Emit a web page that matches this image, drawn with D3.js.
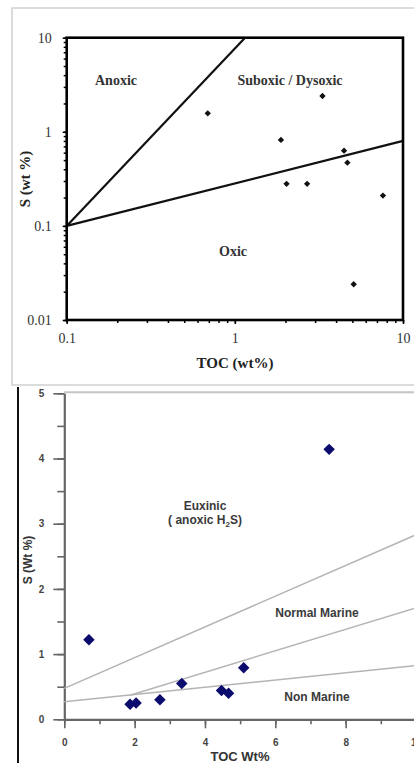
<!DOCTYPE html>
<html>
<head>
<meta charset="utf-8">
<script src="https://cdn.jsdelivr.net/npm/d3@7"></script>
<style>
  body { margin: 0; background: #fff; }
  svg { display: block; }
</style>
</head>
<body>
<svg width="414" height="763"></svg>
<script>
// top panel: log-log TOC vs S
const topToc = [0.69, 3.32, 1.88, 4.46, 4.67, 2.03, 2.69, 7.6, 5.09];
const topS = [1.57, 2.4, 0.82, 0.63, 0.47, 0.28, 0.28, 0.21, 0.024];
const topXTicks = [0.1, 1, 10];
const topYTicks = [0.01, 0.1, 1, 10];
const anoxicLine = [[0.1, 0.1], [1.15, 10]];
const oxicLine = [[0.1, 0.1], [10, 0.8]];

// bottom panel: linear TOC vs S
const botToc = [0.70, 1.87, 2.04, 2.72, 3.34, 4.47, 4.67, 5.10, 7.53];
const botS = [1.22, 0.23, 0.25, 0.30, 0.55, 0.44, 0.40, 0.79, 4.14];
const botXTicks = [0, 2, 4, 6, 8, 10];
const botYTicks = [0, 1, 2, 3, 4, 5];
const euxinicLine = [[0, 0.475], [10, 2.83]];
const marineLine = [[1.87, 0.37], [10, 1.71]];
const nonMarineLine = [[0, 0.27], [10, 0.825]];

const svg = d3.select('svg');

// ---------- top chart ----------
svg.append('rect')
  .attr('x', 12).attr('y', 8).attr('width', 410).attr('height', 377)
  .attr('fill', 'none').attr('stroke', '#d0d0d0').attr('stroke-width', 1.5);

const xTop = d3.scaleLog().domain([0.1, 10]).range([66.7, 403]);
const yTop = d3.scaleLog().domain([0.01, 10]).range([320, 37.7]);
const serif = '"Liberation Serif", "Times New Roman", serif';

const gt = svg.append('g');

// minor ticks
gt.append('g').attr('transform', 'translate(0,320)')
  .call(d3.axisBottom(xTop).tickValues(xTop.ticks()).tickSize(3).tickFormat(''))
  .call(g => g.select('.domain').remove());
gt.append('g').attr('transform', 'translate(66.7,0)')
  .call(d3.axisLeft(yTop).tickValues(yTop.ticks()).tickSize(3).tickFormat(''))
  .call(g => g.select('.domain').remove());

// major ticks + labels
gt.append('g').attr('transform', 'translate(0,320)')
  .call(d3.axisBottom(xTop).tickValues(topXTicks).tickSize(4).tickPadding(9).tickFormat(d => d))
  .call(g => g.select('.domain').remove())
  .call(g => g.selectAll('text').attr('font-family', serif).attr('font-size', 14).attr('fill', '#333'));
gt.append('g').attr('transform', 'translate(66.7,0)')
  .call(d3.axisLeft(yTop).tickValues(topYTicks).tickSize(4).tickPadding(11).tickFormat(d => d))
  .call(g => g.select('.domain').remove())
  .call(g => g.selectAll('text').attr('font-family', serif).attr('font-size', 14).attr('fill', '#333'));
gt.selectAll('.tick line').attr('stroke', '#000').attr('stroke-width', 1.5);

// boundary lines
const lineTop = d3.line().x(d => xTop(d[0])).y(d => yTop(d[1]));
[anoxicLine, oxicLine].forEach(l => {
  gt.append('path').attr('d', lineTop(l))
    .attr('fill', 'none').attr('stroke', '#111').attr('stroke-width', 2.2);
});

// frame
gt.append('rect')
  .attr('x', xTop(0.1)).attr('y', yTop(10))
  .attr('width', xTop(10) - xTop(0.1)).attr('height', yTop(0.01) - yTop(10))
  .attr('fill', 'none').attr('stroke', '#000').attr('stroke-width', 2.6);

// points
gt.selectAll('.pt').data(topToc).enter().append('path')
  .attr('class', 'pt')
  .attr('d', d3.symbol(d3.symbolSquare).size(20))
  .attr('transform', (d, i) => `translate(${xTop(d)},${yTop(topS[i])}) rotate(45)`)
  .attr('fill', '#111');

// region labels
const topLabels = [
  { t: 'Anoxic', x: 116, y: 85 },
  { t: 'Suboxic / Dysoxic', x: 290, y: 85 },
  { t: 'Oxic', x: 233, y: 256 }
];
gt.selectAll('.lab').data(topLabels).enter().append('text')
  .attr('x', d => d.x).attr('y', d => d.y).attr('text-anchor', 'middle')
  .attr('font-family', serif).attr('font-weight', 'bold').attr('font-size', 14).attr('fill', '#333')
  .text(d => d.t);

gt.append('text').attr('x', 235).attr('y', 368).attr('text-anchor', 'middle')
  .attr('font-family', serif).attr('font-weight', 'bold').attr('font-size', 15).attr('fill', '#222')
  .text('TOC (wt%)');
gt.append('text').attr('transform', 'translate(30,179) rotate(-90)').attr('text-anchor', 'middle')
  .attr('font-family', serif).attr('font-weight', 'bold').attr('font-size', 15).attr('fill', '#222')
  .text('S (wt %)');

// ---------- bottom chart ----------
const sans = '"Liberation Sans", Arial, sans-serif';
const xBot = d3.scaleLinear().domain([0, 10]).range([64.3, 416]);
const yBot = d3.scaleLinear().domain([0, 5]).range([719.3, 393.3]);
const gb = svg.append('g');

// black frame edge on the left
gb.append('line').attr('x1', 18).attr('x2', 18).attr('y1', 387).attr('y2', 763)
  .attr('stroke', '#111').attr('stroke-width', 2);

// plot top border
gb.append('line').attr('x1', xBot(0)).attr('x2', 414).attr('y1', yBot(5) - 1).attr('y2', yBot(5) - 1)
  .attr('stroke', '#c4c4c4').attr('stroke-width', 2);

// minor ticks
gb.append('g').attr('transform', `translate(0,${yBot(0)})`)
  .call(d3.axisBottom(xBot).tickValues(xBot.ticks(10)).tickSize(5).tickFormat(''))
  .call(g => g.select('.domain').remove());
gb.append('g').attr('transform', `translate(${xBot(0)},0)`)
  .call(d3.axisLeft(yBot).tickValues(yBot.ticks(10)).tickSize(7).tickFormat(''))
  .call(g => g.select('.domain').remove());

// major axes
gb.append('g').attr('transform', `translate(0,${yBot(0)})`)
  .call(d3.axisBottom(xBot).tickValues(botXTicks).tickSize(9).tickSizeOuter(0).tickPadding(11).tickFormat(d3.format('d')))
  .call(g => g.selectAll('text').attr('font-family', sans).attr('font-weight', 'bold').attr('font-size', 10).attr('fill', '#444'));
gb.append('g').attr('transform', `translate(${xBot(0)},0)`)
  .call(d3.axisLeft(yBot).tickValues(botYTicks).tickSize(11).tickSizeOuter(0).tickPadding(9).tickFormat(d3.format('d')))
  .call(g => g.selectAll('text').attr('font-family', sans).attr('font-weight', 'bold').attr('font-size', 10).attr('fill', '#444'));
gb.selectAll('.domain').attr('stroke', '#666').attr('stroke-width', 2.2);
gb.selectAll('.tick line').attr('stroke', '#666').attr('stroke-width', 1.6);

// boundary lines
const lineBot = d3.line().x(d => xBot(d[0])).y(d => yBot(d[1]));
[euxinicLine, marineLine, nonMarineLine].forEach(l => {
  gb.append('path').attr('d', lineBot(l))
    .attr('fill', 'none').attr('stroke', '#b4b4b4').attr('stroke-width', 1.5);
});

// points
gb.selectAll('.pt').data(botToc).enter().append('path')
  .attr('class', 'pt')
  .attr('d', d3.symbol(d3.symbolSquare).size(66))
  .attr('transform', (d, i) => `translate(${xBot(d)},${yBot(botS[i])}) rotate(45)`)
  .attr('fill', '#0b0b6e');

// region labels
const labStyle = s => s.attr('text-anchor', 'middle').attr('font-family', sans)
  .attr('font-weight', 'bold').attr('font-size', 12).attr('fill', '#3a3a3a');
gb.append('text').attr('x', 205).attr('y', 510).text('Euxinic').call(labStyle);
const an = gb.append('text').attr('x', 205).attr('y', 524).call(labStyle);
an.append('tspan').text('( anoxic H');
an.append('tspan').attr('dy', 3).attr('font-size', 8).text('2');
an.append('tspan').attr('dy', -3).text('S)');
gb.append('text').attr('x', 317).attr('y', 617).text('Normal Marine').call(labStyle);
gb.append('text').attr('x', 317).attr('y', 701).text('Non Marine').call(labStyle);

gb.append('text').attr('x', 240).attr('y', 761).text('TOC Wt%').call(labStyle)
  .attr('font-size', 13).attr('fill', '#333');
gb.append('text').attr('transform', 'translate(32,560) rotate(-90)').text('S (Wt %)').call(labStyle)
  .attr('font-size', 12).attr('fill', '#333');
</script>
</body>
</html>
